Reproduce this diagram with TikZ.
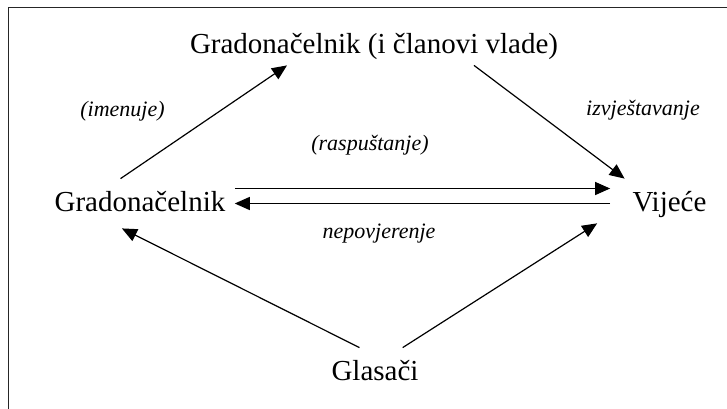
\documentclass[tikz,border=0pt]{standalone}
\usepackage{fontspec}
\setmainfont{Liberation Serif}
\usetikzlibrary{arrows.meta}

\begin{document}
\begin{tikzpicture}[x=0.5pt,y=-0.5pt,
  actor/.style={font=\fontsize{14.5pt}{17pt}\selectfont, inner xsep=4.5pt, inner ysep=5pt, text height=11pt, text depth=3.5pt},
  note/.style={font=\fontsize{11pt}{13pt}\selectfont\itshape, inner sep=0pt, anchor=base},
  arr/.style={line width=0.6pt, -{Triangle[length=7.5pt,width=6.5pt]}}]
\useasboundingbox (0,0) rectangle (727,408);
% Frame round the whole scheme
\draw[line width=0.75pt, black!85] (8.5,7.5) rectangle (760,440);

% The actors
\node[actor, text depth=1pt] (gov) at (374,43) {Gradonačelnik (i članovi vlade)};
\node[actor] (mayor) at (140,203.5) {Gradonačelnik};
\node[actor, inner xsep=11pt] (council) at (669.5,203.5) {Vijeće};
\node[actor] (voters) at (375,372.5) {Glasači};

% The labels next to the arrows
\node[note] (appoints) at (122.5,116) {(imenuje)};
\node[note] (reports) at (643,115) {izvještavanje};
\node[note] (dissolve) at (370,150) {(raspuštanje)};
\node[note] (distrust) at (379,238) {nepovjerenje};

% Mayor appoints the government, which reports to the council
\draw[arr] (mayor.128) -- ([xshift=-43.5pt]gov.south);
\draw[arr] ([xshift=50pt]gov.south) -- (council.151);
% Dissolution one way, no confidence the other way
\draw[arr] (mayor.9) -- (mayor.9 -| council.west);
\draw[arr] (council.west) -- (mayor.east);
% Voters elect both
\draw[arr] (voters.122) -- (mayor.234);
\draw[arr, shorten >=7.7pt] (voters.42) -- (council.191);
\end{tikzpicture}
\end{document}
